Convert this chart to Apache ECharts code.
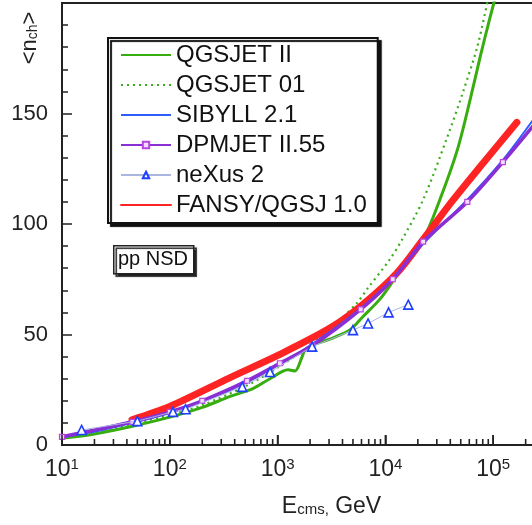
<!DOCTYPE html>
<html><head><meta charset="utf-8">
<script src="https://cdn.jsdelivr.net/npm/echarts@6/dist/echarts.min.js"></script>
<style>html,body{margin:0;padding:0;background:#fff}#c{width:532px;height:525px}</style>
</head><body><div id="c"></div>
<script>
const FONT = 'Liberation Sans, Arial, Helvetica, sans-serif';

// QGSJET II (solid green)
const qgsjet2E = [10, 20, 45, 100, 200, 363, 590, 850, 1250, 1450, 1690, 1800, 2340, 3090, 4670, 6170, 8900, 11700, 14600, 22400, 32000, 46800, 61600, 76000, 93000, 115000];
const qgsjet2N = [3, 5, 8.5, 12.6, 17, 22, 25.5, 30, 34, 33.5, 40, 43, 46, 48, 52, 58, 66, 74, 81, 93, 111, 134, 157, 176, 193, 210];
// QGSJET 01 (dotted green)
const qgsjet01E = [10, 20, 45, 100, 200, 500, 1000, 2000, 3500, 5500, 6760, 11000, 14300, 22400, 37300, 52700, 71000, 89000, 100000];
const qgsjet01N = [3.3, 5.5, 9.5, 13.5, 18, 26.5, 35, 45, 55, 64.5, 70.5, 84, 93, 111, 139, 160, 180, 201, 212];
// SIBYLL 2.1 (blue)
const sibyllE = [10, 20, 45, 100, 200, 500, 1000, 2000, 5000, 10000, 22400, 57500, 123000, 250000];
const sibyllN = [3.5, 6, 10, 14.5, 19.5, 28, 36, 45, 59, 72, 91, 111, 129, 149];
// DPMJET II.55 (purple)
const dpmjetE = [10, 45, 100, 200, 520, 1050, 2100, 5900, 11700, 22400, 57500, 123000, 250000];
const dpmjetN = [3.7, 10.5, 15, 20, 29, 37, 45, 61.4, 75, 92, 110, 128, 146];
// neXus 2 (triangles)
const nexusE = [15.2, 50, 107, 140, 470, 850, 2090, 5000, 6900, 10700, 16300];
const nexusN = [6.8, 10.8, 15, 16.2, 26.3, 33, 44.5, 52, 55, 60, 63.5];
// FANSY/QGSJ 1.0 (red)
const fansyE = [44.6, 100, 363, 1050, 3090, 6170, 12900, 22400, 42700, 75900, 166000];
const fansyN = [11.4, 17.4, 30.5, 41, 53, 63.6, 78, 93, 111, 126, 146];

const seriesNames = ['QGSJET II', 'QGSJET 01', 'SIBYLL 2.1', 'DPMJET II.55', 'neXus 2', 'FANSY/QGSJ 1.0'];
const legendHasMarker = [false, false, false, true, true, false];
const xDecades = [10, 100, 1000, 10000, 100000];
const xMinorMantissa = [2, 3, 4, 5, 6, 7, 8, 9];
const yHiddenLabel = 200;

const pairs = (xs, ys) => xs.map((x, i) => [x, ys[i]]);

const chart = echarts.init(document.getElementById('c'));
const staticGraphics = [
  {type: 'rect', left: 113, top: 245, z: 100,
    shape: {width: 80, height: 28},
    style: {fill: '#fff', stroke: '#222', lineWidth: 1.5, shadowColor: '#222', shadowBlur: 1, shadowOffsetX: 2.5, shadowOffsetY: 2.5}},
  {type: 'text', x: 153, y: 259, z: 101,
    style: {text: 'pp NSD', fontSize: 20, fontFamily: FONT, fill: '#111', align: 'center', verticalAlign: 'middle'}},
  {type: 'text', x: 33, y: 38, rotation: Math.PI / 2, z: 101,
    style: {text: '{a|<n}{s|ch}{a|>}', align: 'center', verticalAlign: 'middle',
      rich: {
        a: {fontSize: 22, fontFamily: FONT, fill: '#222', padding: [0, 0, 6, 0]},
        s: {fontSize: 14, fontFamily: FONT, fill: '#222'}
      }}}
];
const option = {
  animation: false,
  grid: {left: 62, top: 3, right: -69, bottom: 80, outerBoundsMode: 'none', containLabel: false,
    show: true, borderColor: '#222', borderWidth: 2},
  xAxis: {
    type: 'log', logBase: 10, min: 10, max: 1000000, position: 'bottom',
    axisLine: {show: true, onZero: false, lineStyle: {color: '#222', width: 2}},
    axisTick: {show: true, inside: true, length: 10, lineStyle: {color: '#222', width: 1.5}},
    splitLine: {show: false},
    axisLabel: {
      margin: 12,
      formatter: v => '{b|10}{s|' + Math.round(Math.log10(v)) + '}',
      rich: {
        b: {fontSize: 23, fontFamily: FONT, color: '#222'},
        s: {fontSize: 15, fontFamily: FONT, color: '#222', padding: [0, 0, 11, 0]}
      }
    },
    name: '{e|E}{c|cms,}{e| GeV}', nameLocation: 'middle', nameGap: 50,
    nameTextStyle: {
      rich: {
        e: {fontSize: 23, fontFamily: FONT, color: '#222', padding: [0, 0, 6, 0]},
        c: {fontSize: 15, fontFamily: FONT, color: '#222'}
      }
    }
  },
  yAxis: {
    type: 'value', min: 0, max: 200, interval: 50,
    axisLine: {show: true, lineStyle: {color: '#222', width: 2}},
    axisTick: {show: true, inside: true, length: 10, lineStyle: {color: '#222', width: 1.5}},
    minorTick: {show: true, splitNumber: 5, length: 6, lineStyle: {color: '#222', width: 1.5}},
    splitLine: {show: false},
    axisLabel: {fontSize: 22, fontFamily: FONT, color: '#222', margin: 14,
      formatter: v => v === yHiddenLabel ? '' : String(v)}
  },
  legend: {
    orient: 'vertical', left: 108, top: 38, selectedMode: false,
    data: seriesNames.map((n, i) => legendHasMarker[i] ? {name: n} : {name: n, itemStyle: {opacity: 0}}),
    itemWidth: 50, itemHeight: 8, itemGap: 4, padding: [4, 11, 5, 12],
    borderColor: '#111', borderWidth: 2, backgroundColor: '#fff',
    shadowColor: '#111', shadowBlur: 1, shadowOffsetX: 3, shadowOffsetY: 3,
    textStyle: {fontSize: 24, lineHeight: 26, fontFamily: FONT, color: '#111'}
  },
  graphic: staticGraphics,
  series: [
    {type: 'line', name: seriesNames[0], data: pairs(qgsjet2E, qgsjet2N), smooth: 0.3, showSymbol: false, symbol: 'none',
      lineStyle: {color: '#38ad10', width: 3}, itemStyle: {color: '#38ad10'}, z: 2},
    {type: 'line', name: seriesNames[1], data: pairs(qgsjet01E, qgsjet01N), smooth: 0.3, showSymbol: false, symbol: 'none',
      lineStyle: {color: '#3aae1a', width: 2.2, type: [2, 4]}, itemStyle: {color: '#3aae1a'}, z: 2},
    {type: 'line', name: seriesNames[5], data: pairs(fansyE, fansyN), smooth: 0.3, showSymbol: false, symbol: 'none',
      lineStyle: {color: '#ff2424', width: 7, cap: 'round'}, itemStyle: {color: '#ff2424'}, z: 3},
    {type: 'line', name: seriesNames[2], data: pairs(sibyllE, sibyllN), smooth: 0.3, showSymbol: false, symbol: 'none',
      lineStyle: {color: '#2f5cff', width: 2}, itemStyle: {color: '#2f5cff'}, z: 4},
    {type: 'line', name: seriesNames[3], data: pairs(dpmjetE, dpmjetN), smooth: 0.3, symbol: 'rect', symbolSize: 5,
      lineStyle: {color: '#8a2fd6', width: 3.5}, itemStyle: {color: '#f4dcff', borderColor: '#b645e0', borderWidth: 1.2}, z: 5},
    {type: 'line', name: seriesNames[4], data: pairs(nexusE, nexusN), smooth: false, symbol: 'triangle', symbolSize: 9,
      lineStyle: {color: '#a9b6e0', width: 1}, itemStyle: {color: '#fff', borderColor: '#1f3fff', borderWidth: 1.6}, z: 6}
  ]
};
chart.setOption(option);

// x-axis tick marks placed through the chart's own log scale
const tickGraphics = [];
const addTick = (v, len) => {
  const p = chart.convertToPixel({xAxisIndex: 0, yAxisIndex: 0}, [v, 0]);
  if (!p || isNaN(p[0])) return;
  tickGraphics.push({type: 'line', z: 200, silent: true,
    shape: {x1: p[0], y1: p[1], x2: p[0], y2: p[1] - len},
    style: {stroke: '#222', lineWidth: 1.6}});
};
xDecades.forEach(d => {
  addTick(d, 10);
  xMinorMantissa.forEach(m => addTick(d * m, 6));
});
chart.setOption({graphic: staticGraphics.concat(tickGraphics)});
</script></body></html>
